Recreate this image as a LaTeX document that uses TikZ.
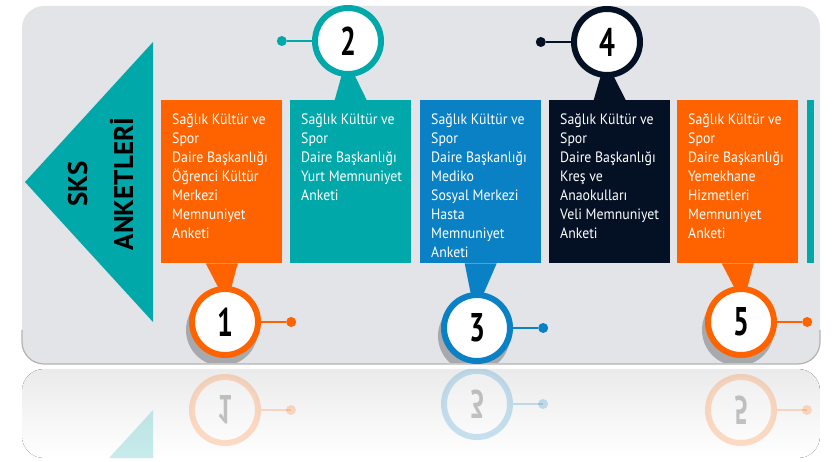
\documentclass[tikz,border=0pt]{standalone}
\usepackage{fontspec}
\setmainfont{PT Sans}
\newfontfamily\boxfont[FakeStretch=0.92]{PT Sans}
\newfontfamily\titlefont[FakeStretch=1.0]{PT Sans}
\newfontfamily\numfont[FakeStretch=0.7]{PT Sans}
\usetikzlibrary{positioning,calc}
\pgfdeclarelayer{background}
\pgfsetlayers{background,main}
\definecolor{sksorange}{RGB}{255,99,0}
\definecolor{sksteal}{RGB}{0,168,170}
\definecolor{sksblue}{RGB}{10,128,197}
\definecolor{sksnavy}{RGB}{4,16,36}
\definecolor{skspanel}{RGB}{227,228,231}
\definecolor{sksshadow}{RGB}{168,169,172}
\begin{document}
\begin{tikzpicture}
	[x=1pt,y=-1pt,
	every node/.style={inner sep=0pt},
	anket/.style={fill=#1,anchor=north west,minimum width=121pt,minimum height=163pt},
	anketext/.style={anchor=north west,align=left,inner xsep=11pt,inner ysep=14pt,text=white,font=\boxfont\fontsize{15}{19}\selectfont},
	ring/.style={circle,draw=#1,line width=6pt,fill=white,minimum size=66pt,font=\numfont\bfseries\fontsize{40}{40}\selectfont},
	dot/.style={circle,fill=#1,minimum size=10pt},
	title/.style={rotate=90,anchor=base,font=\titlefont\bfseries\fontsize{27}{27}\selectfont}
	]
	\useasboundingbox (0,0) rectangle (836,462);
	\begin{scope}
		\clip[rounded corners=22pt] (22,369) rectangle (820,458);
		\fill[top color=gray!16,bottom color=white] (22,369) rectangle (820,458);
		\begin{scope}[opacity=.22,shift={(0,732)},yscale=-1]
			\fill[sksteal] (25,182) -- (153,42) -- (153,322) -- cycle;
			\foreach \x/\y/\col/\n in {225/322/sksorange/1,477/328/sksblue/3,741/322/sksorange/5} {
				\draw[\col,line width=1.5pt] (\x+36,\y) -- (\x+66,\y) node[dot=\col] {};
				\node[ring=\col,transform shape] at (\x,\y) {\n};
			}
		\end{scope}
	\end{scope}
	\fill[sksteal] (25,182) -- (153,42) -- (153,322) -- cycle;
	\node[title] (sks) at (87,184) {SKS};
	\node[title] (anketleri) at (133,184) {ANKETLERİ};
	\node[anket=sksorange] (b1) at (161,100) {};
	\node[anket=sksteal] (b2) at (290,100) {};
	\node[anket=sksblue] (b3) at (420,100) {};
	\node[anket=sksnavy] (b4) at (549,100) {};
	\node[anket=sksorange] (b5) at (677,100) {};
	\node[anket=sksteal,minimum width=7pt] (b6) at (807,100) {};
	\node[anketext] at (b1.north west) {Sağlık Kültür ve\\Spor\\Daire Başkanlığı\\Öğrenci Kültür\\Merkezi\\Memnuniyet\\Anketi};
	\node[anketext] at (b2.north west) {Sağlık Kültür ve\\Spor\\Daire Başkanlığı\\Yurt Memnuniyet\\Anketi};
	\node[anketext] at (b3.north west) {Sağlık Kültür ve\\Spor\\Daire Başkanlığı\\Mediko\\Sosyal Merkezi\\Hasta\\Memnuniyet\\Anketi};
	\node[anketext] at (b4.north west) {Sağlık Kültür ve\\Spor\\Daire Başkanlığı\\Kreş ve\\Anaokulları\\Veli Memnuniyet\\Anketi};
	\node[anketext] at (b5.north west) {Sağlık Kültür ve\\Spor\\Daire Başkanlığı\\Yemekhane\\Hizmetleri\\Memnuniyet\\Anketi};
	\node[ring=sksorange] (c1) at (225,322) {1};
	\node[ring=sksteal] (c2) at (348,41) {2};
	\node[ring=sksblue] (c3) at (477,328) {3};
	\node[ring=sksnavy] (c4) at (607,42) {4};
	\node[ring=sksorange] (c5) at (741,322) {5};
	\node[dot=sksorange,right=25pt of c1] (d1) {};
	\node[dot=sksteal,left=25pt of c2] (d2) {};
	\node[dot=sksblue,right=25pt of c3] (d3) {};
	\node[dot=sksnavy,left=25pt of c4] (d4) {};
	\node[dot=sksorange,right=25pt of c5] (d5) {};
	\foreach \c/\d/\col in {c1/d1/sksorange,c2/d2/sksteal,c3/d3/sksblue,c4/d4/sksnavy,c5/d5/sksorange}
		\draw[\col,line width=1.5pt] (\c) -- (\d);
	\begin{pgfonlayer}{background}
		\fill[skspanel,rounded corners=22pt] (22,6) rectangle (820,364);
		\draw[gray!60,line width=1.2pt,rounded corners=22pt] (22,330) -- (22,364) -- (820,364) -- (820,330);
		\begin{scope}
			\clip[rounded corners=22pt] (22,6) rectangle (820,363);
			\foreach \c in {c1,c3,c5}
				\fill[sksshadow] ($(\c)+(-3,8)$) circle (36);
		\end{scope}
		\foreach \b/\c/\col in {b1/c1/sksorange,b3/c3/sksblue,b5/c5/sksorange}
			\fill[\col] ($(\b.south)+(-16,0)$) -- ($(\c.north)+(-6,3)$) -- ($(\c.north)+(6,3)$) -- ($(\b.south)+(16,0)$) -- cycle;
		\foreach \b/\c/\col in {b2/c2/sksteal,b4/c4/sksnavy}
			\fill[\col] ($(\b.north)+(-16,0)$) -- ($(\c.south)+(-6,-3)$) -- ($(\c.south)+(6,-3)$) -- ($(\b.north)+(16,0)$) -- cycle;
	\end{pgfonlayer}
\end{tikzpicture}
\end{document}
